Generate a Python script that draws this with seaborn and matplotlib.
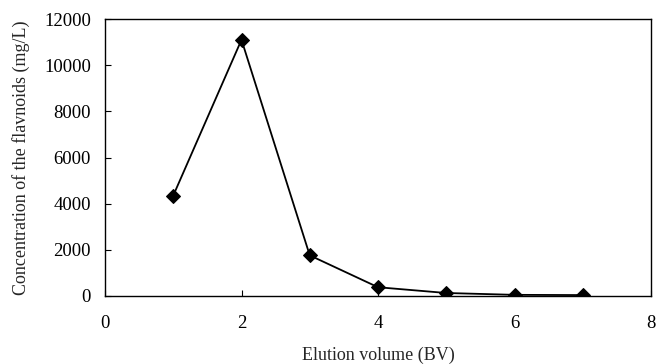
import matplotlib
matplotlib.use("Agg")
import matplotlib.pyplot as plt
import seaborn as sns
import pandas as pd

elution_bv = [1, 2, 3, 4, 5, 6, 7]
concentration = [4350, 11100, 1760, 380, 130, 50, 40]
x_ticks = [0, 2, 4, 6, 8]
y_ticks = [0, 2000, 4000, 6000, 8000, 10000, 12000]

sns.set_theme(style="ticks")
plt.rcParams['font.family'] = ['Liberation Serif', 'DejaVu Serif']

df = pd.DataFrame({"x": elution_bv, "y": concentration})

fig = plt.figure(figsize=(6.58, 3.64), dpi=100)
ax = fig.add_axes([105/658, 1 - 296/364, (651-105)/658, (296-19)/364])
sns.lineplot(data=df, x="x", y="y", ax=ax, color="black", linewidth=1.3,
             marker="D", markersize=7, markeredgecolor="black", markerfacecolor="black")
ax.set_xlim(0, 8)
ax.set_ylim(0, 12000)
ax.set_xticks(x_ticks)
ax.set_yticks(y_ticks)
ax.tick_params(direction="in", length=4, width=0.8, labelsize=13.5, colors="black")
ax.tick_params(axis="x", pad=14)
ax.tick_params(axis="y", pad=10)
for s in ax.spines.values():
    s.set_visible(True)
    s.set_color("black")
    s.set_linewidth(1.0)
ax.set_xlabel("Elution volume (BV)", fontsize=13, labelpad=10)
ax.set_ylabel("Concentration of the flavnoids (mg/L)", fontsize=13, labelpad=10)
fig.savefig("out.png", dpi=100)
